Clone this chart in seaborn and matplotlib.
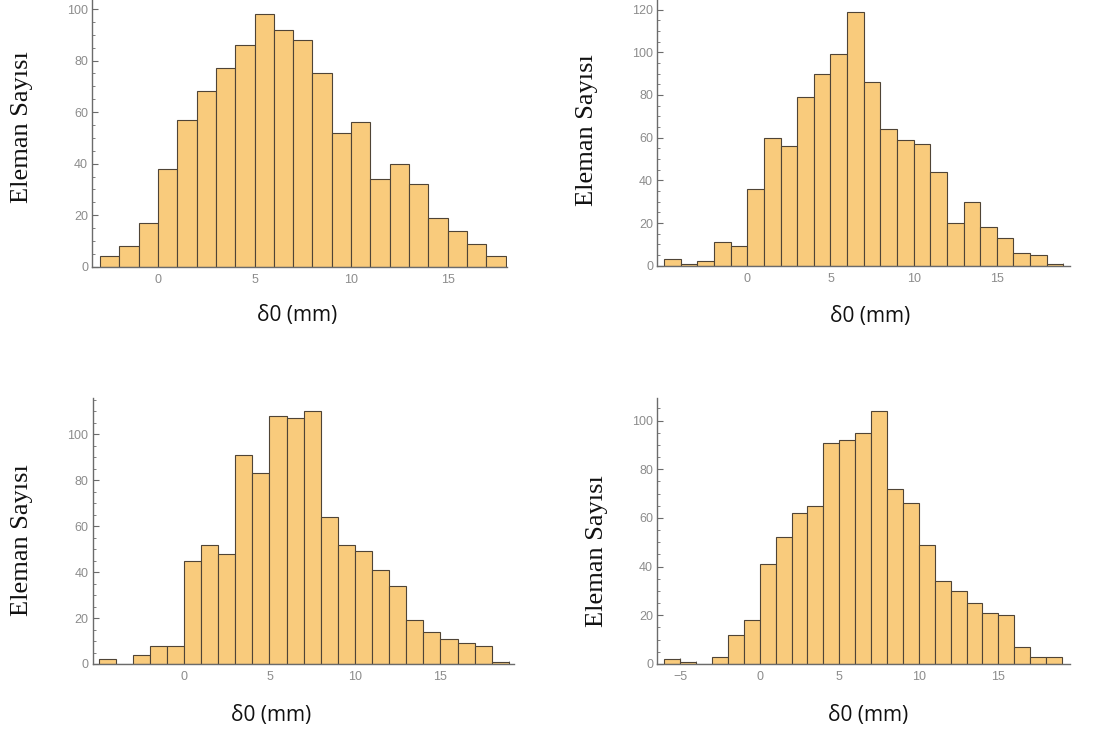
import numpy as np
import pandas as pd
import matplotlib
matplotlib.use("Agg")
import matplotlib.pyplot as plt
from matplotlib.ticker import MultipleLocator
import seaborn as sns

# Bin edges (1 mm wide) and element counts for each of the four runs
edges_a = list(range(-3, 19))
counts_a = [4, 8, 17, 38, 57, 68, 77, 86, 98, 92, 88, 75, 52, 56, 34, 40, 32, 19, 14, 9, 4]

edges_b = list(range(-5, 20))
counts_b = [3, 1, 2, 11, 9, 36, 60, 56, 79, 90, 99, 119, 86, 64, 59, 57, 44, 20, 30, 18,
            13, 6, 5, 1]

edges_c = list(range(-5, 20))
counts_c = [2, 0, 4, 8, 8, 45, 52, 48, 91, 83, 108, 107, 110, 64, 52, 49, 41, 34, 19, 14,
            11, 9, 8, 1]

edges_d = list(range(-6, 20))
counts_d = [2, 1, 0, 3, 12, 18, 41, 52, 62, 65, 91, 92, 95, 104, 72, 66, 49, 34, 30, 25,
            21, 20, 7, 3, 3]

x_ticks_a = [0, 5, 10, 15]
x_ticks_d = [-5, 0, 5, 10, 15]

x_label = "δ0 (mm)"
y_label = "Eleman Sayısı"

sns.set_style("ticks")
plt.rcParams["font.family"] = ["Liberation Sans", "DejaVu Sans"]

W, H = 1111, 740
fig = plt.figure(figsize=(W / 100, H / 100), dpi=100)

BAR_FACE = "#F9CB7C"
BAR_EDGE = "#4f4436"
AXIS_COL = "#6b6b6b"
TICK_COL = "#8c8c8c"

# panel specs: pixel box (left, right, top, bottom), limits, label pixel centres
panels = [
    dict(edges=edges_a, counts=counts_a, box=(92.3, 506.5, 0, 266.7), xlim=(-3.4, 18.05),
         ylim=(0, 103.5), xticks=x_ticks_a, xl=(297, 316), yl=(22, 127)),
    dict(edges=edges_b, counts=counts_b, box=(657.3, 1070, 0, 265.7), xlim=(-5.41, 19.4),
         ylim=(0, 124.5), xticks=x_ticks_a, xl=(870, 316), yl=(587, 130)),
    dict(edges=edges_c, counts=counts_c, box=(92.7, 514, 398, 664), xlim=(-5.34, 19.3),
         ylim=(0, 115.8), xticks=x_ticks_a, xl=(271, 716), yl=(22, 540)),
    dict(edges=edges_d, counts=counts_d, box=(657.3, 1070, 398, 664), xlim=(-6.44, 19.5),
         ylim=(0, 109.3), xticks=x_ticks_d, xl=(868, 716), yl=(597, 551)),
]

for p in panels:
    l, r, t, b = p["box"]
    ax = fig.add_axes([l / W, 1 - b / H, (r - l) / W, (b - t) / H])
    edges = [float(e) for e in p["edges"]]
    centers = [(e0 + e1) / 2 for e0, e1 in zip(edges[:-1], edges[1:])]
    df = pd.DataFrame({"value": centers, "count": p["counts"]})
    sns.histplot(data=df, x="value", weights="count", bins=edges, ax=ax,
                 color=BAR_FACE, edgecolor=BAR_EDGE, linewidth=0.8, alpha=1.0)
    ax.set_xlim(*p["xlim"])
    ax.set_ylim(*p["ylim"])
    ax.set_xticks(p["xticks"])
    ax.yaxis.set_major_locator(MultipleLocator(20))
    ax.yaxis.set_minor_locator(MultipleLocator(5))
    ax.xaxis.set_minor_locator(MultipleLocator(1))
    for side in ("top", "right"):
        ax.spines[side].set_visible(False)
    for side in ("left", "bottom"):
        ax.spines[side].set_color(AXIS_COL)
        ax.spines[side].set_linewidth(1.0)
    ax.tick_params(axis="both", which="major", direction="in", length=4, width=0.8,
                   color=AXIS_COL, labelcolor=TICK_COL, labelsize=9)
    ax.tick_params(axis="both", which="minor", direction="in", length=2, width=0.6,
                   color=AXIS_COL)
    ax.tick_params(axis="y", which="major", pad=3)
    ax.tick_params(axis="x", which="major", pad=5)

    ax.set_xlabel(x_label, fontsize=15, family=["Open Sans", "DejaVu Sans"], color="#111111")
    ax.set_ylabel(y_label, fontsize=19, family=["Liberation Serif", "DejaVu Serif"],
                  color="#111111")
    ax.xaxis.label.set_va("center")
    ax.yaxis.label.set_va("center")
    ax.xaxis.set_label_coords((p["xl"][0] - l) / (r - l), (b - p["xl"][1]) / (b - t))
    ax.yaxis.set_label_coords((p["yl"][0] - l) / (r - l), (b - p["yl"][1]) / (b - t))
    ax.set_facecolor("white")

fig.savefig("out.png", dpi=100, facecolor="white")
